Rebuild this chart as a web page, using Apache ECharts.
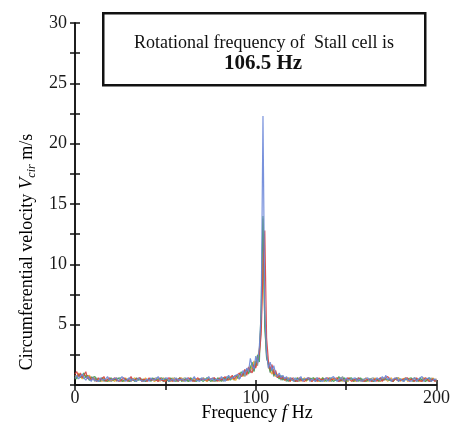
<!DOCTYPE html>
<html><head><meta charset="utf-8">
<script src="https://cdn.jsdelivr.net/npm/echarts@6/dist/echarts.min.js"></script>
<style>html,body{margin:0;padding:0;background:#fff}#c{width:453px;height:428px}</style>
</head><body><div id="c"></div>
<script>
// Frequency grid: 1 Hz samples from 0 to 200 Hz
const freqStartHz = 0, freqStepHz = 1;
const xTickLabels = ['0', '100', '200'];
const yTickLabels = ['5', '10', '15', '20', '25', '30'];

const seriesBlue = [
0.6,0.8,0.5,0.7,0.9,0.6,0.4,0.7,0.5,0.3,0.6,0.4,0.5,0.3,0.6,0.4,0.3,0.5,0.7,0.4,
0.3,0.5,0.4,0.6,0.3,0.4,0.7,0.5,0.3,0.4,0.6,0.3,0.5,0.4,0.3,0.6,0.4,0.5,0.3,0.4,
0.5,0.3,0.6,0.4,0.3,0.5,0.7,0.4,0.3,0.5,0.4,0.6,0.3,0.4,0.5,0.3,0.6,0.4,0.3,0.5,
0.4,0.3,0.6,0.5,0.3,0.4,0.7,0.4,0.5,0.3,0.6,0.4,0.3,0.5,0.7,0.4,0.6,0.3,0.5,0.6,
0.4,0.7,0.5,0.3,0.6,0.8,0.5,0.4,0.7,0.6,0.9,0.5,0.8,1.2,0.9,1.4,1.1,2.2,1.6,1.3,
2.4,1.8,3.2,5.8,22.3,6.1,2.6,1.4,1.9,1.2,1.6,0.9,0.7,1.0,0.6,0.8,0.5,0.7,0.4,0.6,
0.5,0.3,0.6,0.4,0.5,0.7,0.3,0.5,0.4,0.6,0.3,0.5,0.4,0.3,0.6,0.4,0.5,0.3,0.4,0.6,
0.3,0.5,0.4,0.7,0.5,0.3,0.4,0.6,0.5,0.3,0.6,0.4,0.3,0.5,0.4,0.6,0.3,0.5,0.4,0.3,
0.5,0.4,0.6,0.3,0.5,0.4,0.3,0.6,0.5,0.4,0.7,0.5,0.8,0.4,0.6,0.3,0.5,0.4,0.6,0.3,
0.5,0.4,0.3,0.6,0.4,0.5,0.3,0.4,0.6,0.3,0.5,0.4,0.7,0.3,0.5,0.4,0.6,0.3,0.4,0.5,0.4];

const seriesRed = [
0.9,1.1,0.7,1.0,0.6,0.8,1.1,0.5,0.7,0.4,0.6,0.5,0.3,0.6,0.4,0.5,0.7,0.3,0.4,0.6,
0.4,0.3,0.6,0.4,0.5,0.3,0.4,0.6,0.5,0.3,0.4,0.7,0.4,0.3,0.5,0.4,0.6,0.3,0.5,0.4,
0.3,0.6,0.4,0.3,0.5,0.4,0.3,0.6,0.4,0.5,0.3,0.4,0.6,0.5,0.3,0.4,0.5,0.3,0.6,0.4,
0.5,0.4,0.3,0.6,0.4,0.5,0.3,0.4,0.6,0.4,0.3,0.5,0.6,0.4,0.3,0.5,0.4,0.6,0.5,0.3,
0.6,0.4,0.5,0.7,0.4,0.5,0.6,0.8,0.5,0.7,0.6,1.0,0.7,0.9,1.3,0.8,1.5,1.2,1.0,1.7,
1.4,2.1,2.6,4.2,9.5,12.8,3.9,2.0,1.3,1.7,0.9,1.2,0.6,0.8,0.5,0.7,0.4,0.6,0.5,0.3,
0.6,0.4,0.5,0.3,0.6,0.4,0.5,0.3,0.4,0.6,0.5,0.3,0.4,0.5,0.3,0.6,0.4,0.3,0.5,0.4,
0.6,0.4,0.3,0.5,0.4,0.6,0.3,0.4,0.5,0.3,0.4,0.6,0.5,0.3,0.4,0.5,0.3,0.6,0.4,0.5,
0.3,0.4,0.5,0.6,0.3,0.4,0.5,0.3,0.4,0.6,0.3,0.5,0.4,0.7,0.5,0.4,0.3,0.6,0.4,0.5,
0.4,0.3,0.5,0.4,0.6,0.3,0.5,0.4,0.3,0.6,0.4,0.5,0.3,0.4,0.6,0.5,0.3,0.4,0.5,0.3,0.4];

const seriesGreen = [
0.7,0.5,0.9,0.6,0.8,1.0,0.6,0.8,0.4,0.6,0.5,0.7,0.4,0.5,0.3,0.6,0.4,0.5,0.3,0.4,
0.6,0.4,0.3,0.5,0.4,0.6,0.3,0.4,0.5,0.6,0.3,0.4,0.5,0.3,0.6,0.4,0.3,0.5,0.6,0.3,
0.4,0.5,0.3,0.6,0.4,0.3,0.5,0.4,0.6,0.3,0.5,0.4,0.3,0.6,0.4,0.5,0.3,0.4,0.6,0.3,
0.3,0.5,0.4,0.3,0.6,0.4,0.5,0.3,0.4,0.5,0.6,0.3,0.4,0.6,0.5,0.3,0.4,0.5,0.3,0.6,
0.5,0.3,0.6,0.5,0.4,0.7,0.4,0.6,0.5,0.8,0.6,0.7,1.1,0.8,1.0,1.3,0.9,1.4,1.9,1.1,
1.8,2.5,1.9,6.6,14.0,4.8,2.3,1.7,1.1,1.5,0.8,1.0,0.7,0.5,0.8,0.4,0.6,0.5,0.3,0.6,
0.4,0.5,0.3,0.6,0.4,0.3,0.5,0.6,0.4,0.3,0.5,0.4,0.6,0.3,0.5,0.4,0.3,0.6,0.5,0.3,
0.4,0.6,0.5,0.3,0.4,0.5,0.7,0.3,0.4,0.6,0.3,0.5,0.4,0.6,0.3,0.4,0.5,0.3,0.6,0.4,
0.5,0.3,0.4,0.5,0.6,0.3,0.4,0.5,0.3,0.6,0.4,0.3,0.5,0.6,0.4,0.5,0.3,0.4,0.6,0.3,
0.5,0.6,0.4,0.3,0.5,0.4,0.6,0.3,0.4,0.5,0.3,0.6,0.4,0.5,0.3,0.4,0.6,0.3,0.5,0.4,0.3];

const seriesOrange = [
0.8,0.6,1.0,0.7,0.5,0.9,0.7,0.6,0.8,0.5,0.4,0.6,0.3,0.5,0.4,0.3,0.6,0.4,0.5,0.3,
0.5,0.4,0.3,0.6,0.3,0.5,0.4,0.3,0.6,0.4,0.5,0.3,0.4,0.6,0.4,0.3,0.5,0.4,0.3,0.6,
0.4,0.3,0.5,0.6,0.3,0.4,0.5,0.3,0.4,0.6,0.3,0.5,0.4,0.3,0.6,0.4,0.3,0.5,0.4,0.6,
0.3,0.4,0.5,0.3,0.6,0.4,0.3,0.5,0.6,0.4,0.3,0.5,0.4,0.3,0.6,0.4,0.5,0.3,0.4,0.5,
0.3,0.5,0.4,0.6,0.5,0.4,0.7,0.5,0.6,0.4,0.8,0.6,0.9,0.7,1.2,0.9,1.1,1.6,1.3,2.0,
1.5,2.2,3.0,5.0,11.0,5.5,2.8,1.5,1.2,0.9,1.3,0.7,0.9,0.6,0.5,0.7,0.4,0.5,0.6,0.3,
0.5,0.4,0.3,0.6,0.5,0.3,0.4,0.6,0.3,0.5,0.4,0.3,0.6,0.4,0.5,0.3,0.4,0.6,0.3,0.5,
0.5,0.3,0.6,0.4,0.3,0.5,0.4,0.6,0.3,0.5,0.4,0.3,0.6,0.4,0.5,0.3,0.4,0.5,0.6,0.3,
0.4,0.6,0.3,0.4,0.5,0.3,0.6,0.4,0.5,0.3,0.4,0.6,0.5,0.3,0.4,0.6,0.3,0.5,0.4,0.6,
0.3,0.5,0.4,0.6,0.3,0.4,0.5,0.3,0.6,0.4,0.5,0.3,0.4,0.6,0.3,0.5,0.4,0.3,0.6,0.4,0.5];

const seriesGray = [
0.5,0.7,0.6,0.9,0.7,0.5,0.8,0.6,0.4,0.7,0.5,0.3,0.6,0.4,0.5,0.6,0.3,0.4,0.5,0.6,
0.3,0.4,0.5,0.3,0.6,0.4,0.5,0.3,0.4,0.5,0.3,0.6,0.4,0.5,0.3,0.4,0.6,0.3,0.4,0.5,
0.6,0.4,0.3,0.5,0.4,0.6,0.3,0.5,0.4,0.3,0.6,0.4,0.5,0.3,0.4,0.6,0.5,0.3,0.4,0.5,
0.4,0.6,0.3,0.4,0.5,0.3,0.6,0.4,0.3,0.5,0.4,0.6,0.5,0.3,0.4,0.5,0.3,0.6,0.4,0.5,
0.4,0.6,0.3,0.5,0.7,0.4,0.5,0.7,0.4,0.6,0.7,0.5,0.8,1.0,0.7,1.1,1.4,1.0,1.6,1.2,
2.0,1.6,2.8,5.3,13.8,5.1,2.2,1.8,1.0,1.4,0.7,1.1,0.6,0.8,0.4,0.6,0.5,0.3,0.6,0.4,
0.3,0.6,0.4,0.5,0.3,0.6,0.4,0.3,0.5,0.4,0.6,0.3,0.5,0.4,0.6,0.3,0.5,0.4,0.3,0.6,
0.4,0.5,0.3,0.6,0.4,0.5,0.3,0.5,0.7,0.4,0.5,0.3,0.6,0.4,0.3,0.5,0.4,0.6,0.3,0.5,
0.6,0.4,0.3,0.5,0.4,0.6,0.3,0.5,0.4,0.3,0.6,0.4,0.3,0.5,0.6,0.4,0.3,0.5,0.4,0.6,
0.4,0.5,0.3,0.6,0.4,0.3,0.5,0.4,0.6,0.3,0.4,0.5,0.3,0.6,0.4,0.5,0.3,0.6,0.4,0.3,0.5];

const seriesList = [
  { name: 'gray', data: seriesGray, color: '#7f9494' },
  { name: 'orange', data: seriesOrange, color: '#eda62e' },
  { name: 'green', data: seriesGreen, color: '#3f9f55' },
  { name: 'red', data: seriesRed, color: '#d64040' },
  { name: 'blue', data: seriesBlue, color: '#6a86d8' }
];

const serif = '"Liberation Serif", "DejaVu Serif", serif';
const chart = echarts.init(document.getElementById('c'));

function toPairs(arr) {
  return arr.map((v, i) => [freqStartHz + i * freqStepHz, v]);
}

const axisLine = { show: true, lineStyle: { color: '#111', width: 1.5 } };
const ticks = { show: true, inside: true, length: 5, lineStyle: { color: '#111', width: 1.5 } };

chart.setOption({
  animation: false,
  backgroundColor: '#fff',
  grid: { left: 75, right: 16, top: 23, bottom: 43, containLabel: false },
  xAxis: [{
    type: 'value', min: 0, max: 200, interval: 50, position: 'bottom',
    axisLine, axisTick: ticks, splitLine: { show: false },
    axisLabel: {
      margin: 4, fontFamily: serif, fontSize: 18, color: '#1a1a1a',
      formatter: v => xTickLabels.includes(String(v)) ? String(v) : ''
    }
  }, {
    type: 'value', min: 0, max: 200, interval: 50, position: 'top',
    axisLine, axisTick: ticks, axisLabel: { show: false }, splitLine: { show: false }
  }],
  yAxis: [{
    type: 'value', min: 0, max: 30, interval: 2.5, position: 'left',
    axisLine, axisTick: ticks, splitLine: { show: false },
    axisLabel: {
      margin: 8, fontFamily: serif, fontSize: 18, color: '#1a1a1a',
      formatter: v => yTickLabels.includes(String(v)) ? String(v) : ''
    }
  }, {
    type: 'value', min: 0, max: 30, interval: 2.5, position: 'right',
    axisLine, axisTick: ticks, axisLabel: { show: false }, splitLine: { show: false }
  }],
  series: seriesList.map(s => ({
    type: 'line', name: s.name, data: toPairs(s.data),
    showSymbol: false, symbol: 'none',
    lineStyle: { width: 1.2, color: s.color, opacity: 0.9 },
    itemStyle: { color: s.color }
  })),
  graphic: [
    {
      type: 'rect', left: 102, top: 12, z: 100,
      shape: { width: 322, height: 72 },
      style: { fill: '#fff', stroke: '#111', lineWidth: 2.5 }
    },
    {
      type: 'text', x: 264, y: 43, z: 101,
      style: { text: 'Rotational frequency of  Stall cell is', font: '18px ' + serif, fill: '#111', align: 'center', verticalAlign: 'middle' }
    },
    {
      type: 'text', x: 263, y: 64, z: 101,
      style: { text: '106.5 Hz', font: 'bold 21px ' + serif, fill: '#111', align: 'center', verticalAlign: 'middle' }
    },
    {
      type: 'text', x: 27, y: 252, rotation: Math.PI / 2, z: 101,
      style: {
        text: '{n|Circumferential velocity }{v|V}{s|cir}{n| m/s}',
        align: 'center', verticalAlign: 'middle',
        rich: {
          n: { fontFamily: serif, fontSize: 18, color: '#1a1a1a' },
          v: { fontFamily: serif, fontSize: 19, fontStyle: 'italic', color: '#1a1a1a' },
          s: { fontFamily: serif, fontSize: 12, fontStyle: 'italic', color: '#1a1a1a', padding: [9, 0, 0, 0] }
        }
      }
    },
    {
      type: 'text', x: 257, y: 413, z: 101,
      style: {
        text: '{n|Frequency }{f|f}{n| Hz}',
        align: 'center', verticalAlign: 'middle',
        rich: {
          n: { fontFamily: serif, fontSize: 18, color: '#1a1a1a' },
          f: { fontFamily: serif, fontSize: 19, fontStyle: 'italic', color: '#1a1a1a' }
        }
      }
    }
  ]
});
</script>
</body></html>
